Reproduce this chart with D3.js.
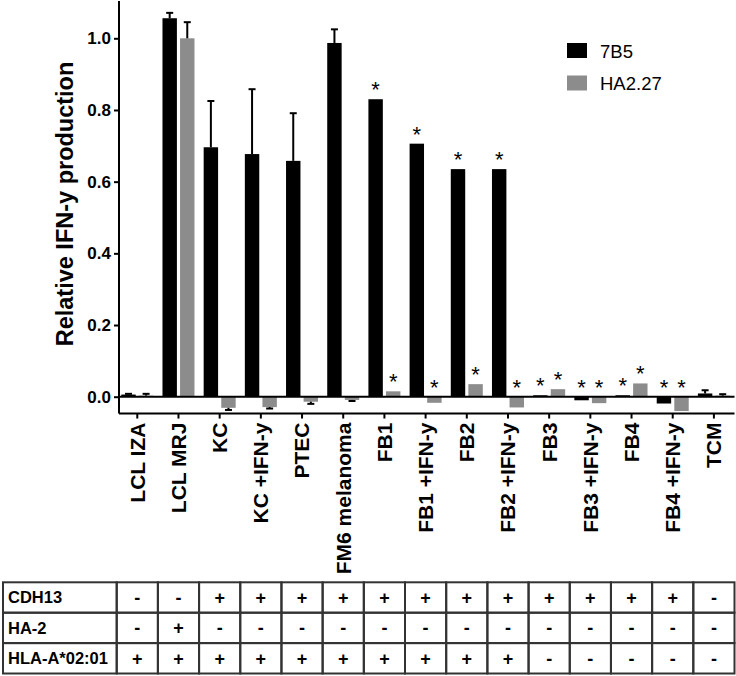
<!DOCTYPE html>
<html>
<head>
<meta charset="utf-8">
<script src="https://cdn.jsdelivr.net/npm/d3@7"></script>
<style>
  body { margin: 0; background: #fff; }
  svg { display: block; font-family: "Liberation Sans", Arial, sans-serif; }
</style>
</head>
<body>
<div id="chart"></div>
<script>
const categories = ["LCL IZA", "LCL MRJ", "KC", "KC +IFN-y", "PTEC", "FM6 melanoma", "FB1", "FB1 +IFN-y",
  "FB2", "FB2 +IFN-y", "FB3", "FB3 +IFN-y", "FB4", "FB4 +IFN-y", "TCM"];
const seriesNames = ["7B5", "HA2.27"];
const values7B5 = [0.006, 1.056, 0.696, 0.677, 0.658, 0.987, 0.830, 0.706, 0.635, 0.635, 0.004, -0.010, 0.004, -0.019, 0.009];
const errors7B5 = [0.002, 0.015, 0.129, 0.181, 0.133, 0.038, 0, 0, 0, 0, 0, 0, 0, 0, 0.009];
const valuesHA = [0.003, 1.0, -0.031, -0.029, -0.014, -0.009, 0.015, -0.017, 0.035, -0.030, 0.021, -0.018, 0.037, -0.040, 0.003];
const errorsHA = [0.005, 0.045, 0.006, 0.004, 0.006, 0.003, 0, 0, 0, 0, 0, 0, 0, 0, 0.004];
const starred = ["FB1", "FB1 +IFN-y", "FB2", "FB2 +IFN-y", "FB3", "FB3 +IFN-y", "FB4", "FB4 +IFN-y"];
const yTicks = [0, 0.2, 0.4, 0.6, 0.8, 1.0];
const rowLabels = ["CDH13", "HA-2", "HLA-A*02:01"];
const rowCDH13 = ["-", "-", "+", "+", "+", "+", "+", "+", "+", "+", "+", "+", "+", "+", "-"];
const rowHA2 = ["-", "+", "-", "-", "-", "-", "-", "-", "-", "-", "-", "-", "-", "-", "-"];
const rowHLA = ["+", "+", "+", "+", "+", "+", "+", "+", "+", "+", "-", "-", "-", "-", "-"];

const width = 736, height = 676;
const colors = { "7B5": "#000000", "HA2.27": "#8c8c8c" };

const svg = d3.select("#chart").append("svg")
  .attr("width", width).attr("height", height);

const x = d3.scaleBand().domain(categories).range([116.7, 734.5]).padding(0);
const x1 = d3.scaleBand().domain(seriesNames).range([-16, 16]).paddingInner(0.18);
const y = d3.scaleLinear().domain([0, 1]).range([396.7, 38.3]);
const yMin = -0.047, yMax = 1.104;
const axisX = 119;

const data = [];
categories.forEach((c, i) => {
  data.push({ cat: c, s: "7B5", v: values7B5[i], e: errors7B5[i] });
  data.push({ cat: c, s: "HA2.27", v: valuesHA[i], e: errorsHA[i] });
});

// bars
svg.append("g").selectAll("rect").data(data).join("rect")
  .attr("x", d => x(d.cat) + x.bandwidth() / 2 + x1(d.s))
  .attr("width", x1.bandwidth())
  .attr("y", d => y(Math.max(0, d.v)))
  .attr("height", d => Math.abs(y(d.v) - y(0)))
  .attr("fill", d => colors[d.s]);

// error bars (one-sided, in direction of the value)
const errG = svg.append("g").attr("stroke", "#000").attr("stroke-width", 2);
data.filter(d => d.e > 0).forEach(d => {
  const cx = x(d.cat) + x.bandwidth() / 2 + x1(d.s) + x1.bandwidth() / 2;
  const end = d.v >= 0 ? d.v + d.e : d.v - d.e;
  errG.append("line").attr("x1", cx).attr("x2", cx).attr("y1", y(d.v)).attr("y2", y(end));
  errG.append("line").attr("x1", cx - 3.5).attr("x2", cx + 3.5).attr("y1", y(end)).attr("y2", y(end));
});

// significance stars
svg.append("g").selectAll("text").data(data.filter(d => starred.includes(d.cat))).join("text")
  .attr("x", d => x(d.cat) + x.bandwidth() / 2 + x1(d.s) + x1.bandwidth() / 2)
  .attr("y", d => y(Math.max(0, d.v)) - 2)
  .attr("text-anchor", "middle")
  .attr("font-size", 22)
  .text("*");

// zero line
svg.append("line")
  .attr("x1", axisX).attr("x2", x.range()[1])
  .attr("y1", y(0)).attr("y2", y(0))
  .attr("stroke", "#000").attr("stroke-width", 2);

// y axis
const yAxis = svg.append("g")
  .attr("transform", `translate(${axisX},0)`)
  .call(d3.axisLeft(y).tickValues(yTicks).tickFormat(d3.format(".1f")).tickSize(5).tickSizeOuter(0));
yAxis.select(".domain").attr("d", `M0,${y(yMax)}V${y(yMin)}`).attr("stroke-width", 2);
yAxis.selectAll(".tick line").attr("stroke-width", 2);
yAxis.selectAll(".tick text")
  .attr("font-family", "Liberation Sans, Arial, sans-serif")
  .attr("font-size", 17).attr("font-weight", "bold").attr("fill", "#000")
  .attr("x", -8);

// x axis
const xAxis = svg.append("g")
  .attr("transform", `translate(0,${y(yMin)})`)
  .call(d3.axisBottom(x).tickSize(5).tickSizeOuter(0));
xAxis.select(".domain").attr("d", `M${axisX},0H${x.range()[1]}`).attr("stroke-width", 2);
xAxis.selectAll(".tick line").attr("stroke-width", 2);
xAxis.selectAll(".tick text")
  .attr("font-family", "Liberation Sans, Arial, sans-serif")
  .attr("font-size", 21).attr("font-weight", "bold").attr("fill", "#000")
  .attr("text-anchor", "end")
  .attr("transform", "translate(0,9) rotate(-90)")
  .attr("x", 0).attr("y", 0).attr("dy", "0.35em");

// y title
svg.append("text")
  .attr("transform", "translate(73,204) rotate(-90)")
  .attr("text-anchor", "middle")
  .attr("font-size", 23.5).attr("font-weight", "bold")
  .text("Relative IFN-y production");

// legend
const legend = svg.append("g").selectAll("g").data(seriesNames).join("g")
  .attr("transform", (d, i) => `translate(567,${43 + i * 32.5})`);
legend.append("rect").attr("width", 20).attr("height", 15).attr("fill", d => colors[d]);
legend.append("text").attr("x", 33).attr("y", 14.5).attr("font-size", 18.5).text(d => d);

// table
const rows = [rowCDH13, rowHA2, rowHLA];
const tableTop = 582.3, rowH = 30.4, tableLeft = 3;
const tg = svg.append("g");
rows.forEach((row, r) => {
  const ty = tableTop + r * rowH;
  tg.append("rect").attr("x", tableLeft).attr("y", ty)
    .attr("width", x.range()[0] - tableLeft).attr("height", rowH)
    .attr("fill", "none").attr("stroke", "#333").attr("stroke-width", 2);
  tg.append("text").attr("x", tableLeft + 5).attr("y", ty + rowH / 2).attr("dy", "0.35em")
    .attr("font-size", 16.5).attr("font-weight", "bold").text(rowLabels[r]);
  row.forEach((v, i) => {
    tg.append("rect").attr("x", x(categories[i])).attr("y", ty)
      .attr("width", x.bandwidth()).attr("height", rowH)
      .attr("fill", "none").attr("stroke", "#333").attr("stroke-width", 2);
    tg.append("text").attr("x", x(categories[i]) + x.bandwidth() / 2).attr("y", ty + rowH / 2)
      .attr("dy", "0.35em").attr("text-anchor", "middle")
      .attr("font-size", 18).attr("font-weight", "bold").text(v);
  });
});
</script>
</body>
</html>
